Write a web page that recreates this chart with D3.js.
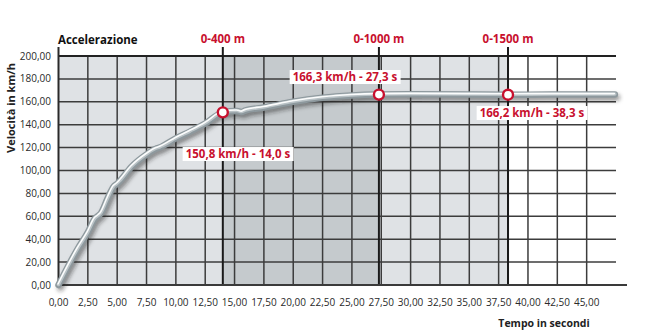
<!DOCTYPE html>
<html>
<head>
<meta charset="utf-8">
<script src="https://cdn.jsdelivr.net/npm/d3@7"></script>
<style>
  body { margin: 0; background: #fff; }
  svg text { font-family: "Open Sans", "DejaVu Sans", sans-serif; }
</style>
</head>
<body>
<div id="chart"></div>
<script>
// curve data (time in s, speed in km/h)
var times  = [0, 0.8, 1.6, 2.5, 3.1, 3.4, 3.6, 4.2, 4.7, 4.95, 5.2, 6.2, 7.5, 8.3, 8.6, 8.9,
              10, 11.2, 12.5, 14, 15.2, 15.6, 15.9, 17.5, 20, 22.5, 25, 27.3, 30, 35, 38.3, 42, 47.4];
var speeds = [0, 16, 31, 46, 58, 60.5, 62.5, 76, 86, 88, 90.5, 103, 114, 119, 120, 121.5,
              128, 134, 141, 150.8, 152, 151, 152.3, 155, 160, 163.5, 165.5, 166.3, 166.5, 166.3, 166.2, 166.3, 166.3];

// distance markers
var markerLabels = ["0-400 m", "0-1000 m", "0-1500 m"];
var markerTimes  = [14.0, 27.3, 38.3];
var markerSpeeds = [150.8, 166.3, 166.2];
var markerTexts  = ["150,8 km/h - 14,0 s", "166,3 km/h - 27,3 s", "166,2 km/h - 38,3 s"];

// background bands
var bandStarts = [0, 14.0, 27.3, 38.3];
var bandEnds   = [14.0, 27.3, 38.3, 47.5];
var bandColors = ["#dfe2e5", "#c5cacd", "#dfe2e5", "#ffffff"];

var xTicks = d3.range(0, 45.01, 2.5);
var yTicks = d3.range(0, 200.01, 20);

var W = 662, H = 330;
var m = {left: 58.5, right: 616, top: 56, bottom: 285};

var svg = d3.select("#chart").append("svg")
    .attr("width", W).attr("height", H);

var x = d3.scaleLinear().domain([0, 47.5]).range([m.left, m.right]);
var y = d3.scaleLinear().domain([0, 200]).range([m.bottom, m.top]);

var fmt = function(v) { return d3.format(".2f")(v).replace(".", ","); };

// shadow filter for the tube
var defs = svg.append("defs");
defs.append("filter").attr("id", "blur")
    .attr("x", "-10%").attr("y", "-10%").attr("width", "120%").attr("height", "130%")
    .append("feGaussianBlur").attr("stdDeviation", 2);

// bands
svg.append("g").selectAll("rect")
    .data(bandStarts)
    .enter().append("rect")
    .attr("x", function(d) { return x(d); })
    .attr("y", m.top)
    .attr("width", function(d, i) { return x(bandEnds[i]) - x(d); })
    .attr("height", m.bottom - m.top)
    .attr("fill", function(d, i) { return bandColors[i]; });

// grid
var grid = svg.append("g").attr("stroke", "#3c3c3c").attr("stroke-width", 1.5);
grid.selectAll(".v").data(xTicks.filter(function(d) { return d > 0; }))
    .enter().append("line")
    .attr("x1", function(d) { return x(d); }).attr("x2", function(d) { return x(d); })
    .attr("y1", m.top).attr("y2", m.bottom);
grid.selectAll(".h").data(yTicks.filter(function(d) { return d > 0; }))
    .enter().append("line")
    .attr("x1", m.left).attr("x2", m.right)
    .attr("y1", function(d) { return y(d); }).attr("y2", function(d) { return y(d); })
    .attr("stroke-width", function(d) { return d === 200 ? 1.8 : 1.5; })
    .attr("stroke", function(d) { return d === 200 ? "#222" : null; });

// marker lines
svg.append("g").selectAll("line")
    .data(markerTimes)
    .enter().append("line")
    .attr("x1", function(d) { return x(d); }).attr("x2", function(d) { return x(d); })
    .attr("y1", 47).attr("y2", m.bottom)
    .attr("stroke", "#1a1a1a").attr("stroke-width", 2);

// axes lines
svg.append("line").attr("x1", m.left).attr("x2", m.left).attr("y1", 47).attr("y2", m.bottom)
    .attr("stroke", "#2a2a2a").attr("stroke-width", 2);
svg.append("line").attr("x1", m.left).attr("x2", 627).attr("y1", m.bottom).attr("y2", m.bottom)
    .attr("stroke", "#3a3a3a").attr("stroke-width", 2.2);

// y tick labels
svg.append("g").selectAll("text")
    .data(yTicks)
    .enter().append("text")
    .attr("x", 51).attr("y", function(d) { return y(d); })
    .attr("dy", "0.35em").attr("text-anchor", "end")
    .attr("font-size", 10).attr("fill", "#2a2a2a")
    .text(fmt);

// x tick labels
svg.append("g").selectAll("text")
    .data(xTicks)
    .enter().append("text")
    .attr("x", function(d) { return x(d); }).attr("y", 302)
    .attr("dy", "0.35em").attr("text-anchor", "middle")
    .attr("font-size", 10).attr("fill", "#2a2a2a")
    .text(fmt);

// titles
svg.append("text").attr("x", 58).attr("y", 40).attr("dy", "0.35em")
    .attr("font-size", 11.5).attr("font-weight", "bold").attr("fill", "#111")
    .text("Accelerazione");
svg.append("text").attr("transform", "translate(11,108) rotate(-90)")
    .attr("text-anchor", "middle").attr("dy", "0.35em")
    .attr("font-size", 11).attr("font-weight", "bold").attr("fill", "#222")
    .text("Velocità in km/h");
svg.append("text").attr("x", 544).attr("y", 323).attr("dy", "0.35em")
    .attr("text-anchor", "middle")
    .attr("font-size", 10.5).attr("font-weight", "bold").attr("fill", "#222")
    .text("Tempo in secondi");

// distance labels above
svg.append("g").selectAll("text")
    .data(markerLabels)
    .enter().append("text")
    .attr("x", function(d, i) { return x(markerTimes[i]); }).attr("y", 39)
    .attr("dy", "0.35em").attr("text-anchor", "middle")
    .attr("font-size", 11.5).attr("font-weight", "bold").attr("fill", "#c8102e")
    .text(function(d) { return d; });

// speed curve as a tube
var pts = times.map(function(t, i) { return [t, speeds[i]]; });
var line = d3.line()
    .curve(d3.curveMonotoneX)
    .x(function(d) { return x(d[0]); })
    .y(function(d) { return y(d[1]); });

svg.append("path").datum(pts).attr("d", line)
    .attr("fill", "none").attr("stroke", "#222").attr("stroke-opacity", 0.5)
    .attr("stroke-width", 6).attr("stroke-linecap", "round")
    .attr("transform", "translate(2,3)").attr("filter", "url(#blur)");
svg.append("path").datum(pts).attr("d", line)
    .attr("fill", "none").attr("stroke", "#8d989d")
    .attr("stroke-width", 6.5).attr("stroke-linecap", "round");
svg.append("path").datum(pts).attr("d", line)
    .attr("fill", "none").attr("stroke", "#b9c2c6")
    .attr("stroke-width", 3.5).attr("stroke-linecap", "round")
    .attr("transform", "translate(0,-0.5)");
svg.append("path").datum(pts).attr("d", line)
    .attr("fill", "none").attr("stroke", "#fbfcfc")
    .attr("stroke-width", 1.6).attr("stroke-linecap", "round")
    .attr("transform", "translate(-0.5,-1)");

// marker value labels
var labelPos = [[238, 154], [345, 77], [532, 113]];
var lbl = svg.append("g").selectAll("g")
    .data(markerTexts)
    .enter().append("g")
    .attr("transform", function(d, i) { return "translate(" + labelPos[i][0] + "," + labelPos[i][1] + ")"; });
lbl.append("text")
    .attr("text-anchor", "middle").attr("dy", "0.35em")
    .attr("font-size", 11.5).attr("font-weight", "bold").attr("fill", "#c8102e")
    .text(function(d) { return d; })
    .each(function() {
        var b = this.getBBox();
        d3.select(this.parentNode).insert("rect", "text")
            .attr("x", b.x - 3).attr("y", b.y + 1)
            .attr("width", b.width + 6).attr("height", b.height - 1)
            .attr("fill", "#fff");
    });

// markers
svg.append("g").selectAll("circle")
    .data(markerTimes)
    .enter().append("circle")
    .attr("cx", function(d) { return x(d); })
    .attr("cy", function(d, i) { return y(markerSpeeds[i]); })
    .attr("r", 5).attr("fill", "#fff")
    .attr("stroke", "#c8102e").attr("stroke-width", 2.4);
</script>
</body>
</html>
